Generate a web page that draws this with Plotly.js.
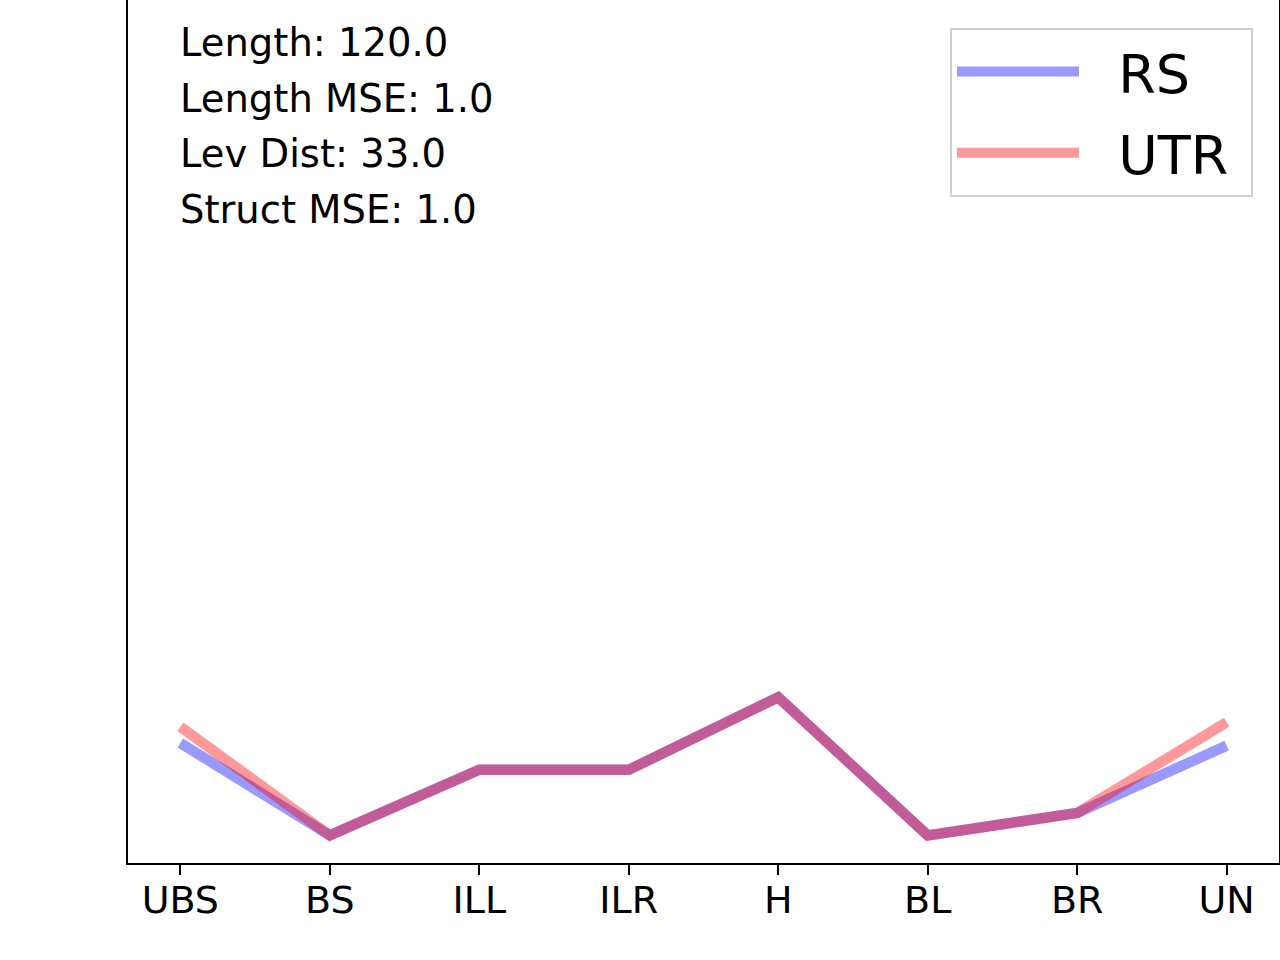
<!DOCTYPE html>
<html>
<head>
<meta charset="utf-8">
<script src="https://cdn.plot.ly/plotly-3.0.1.min.js"></script>
<style>
  html, body { margin: 0; padding: 0; background: #fff; }
  #chart { width: 1280px; height: 960px; }
</style>
</head>
<body>
<div id="chart"></div>
<script>
// categories along the x axis
const categories = ['UBS', 'BS', 'ILL', 'ILR', 'H', 'BL', 'BR', 'UN'];

// series values (axis 0..1)
const rsValues  = [0.139, 0.032, 0.108, 0.108, 0.192, 0.032, 0.058, 0.136];
const utrValues = [0.158, 0.032, 0.108, 0.108, 0.192, 0.032, 0.058, 0.163];

const seriesNames = ['RS', 'UTR'];

// stats text in the top-left corner
const statLines = [
  'Length: 120.0',
  'Length MSE: 1.0',
  'Lev Dist: 33.0',
  'Struct MSE: 1.0',
];

const FONT = 'DejaVu Sans, Liberation Sans, sans-serif';
const NB = '\u00a0';

// legend labels get a little non-breaking padding, like the matplotlib legend
const legendLabel = (s) => NB + NB + s + NB;

const traces = [
  {
    x: categories,
    y: rsValues,
    type: 'scatter',
    mode: 'lines',
    name: legendLabel(seriesNames[0]),
    legendgroup: 'a',
    line: { color: 'rgba(0,0,255,0.4)', width: 10.5 },
  },
  {
    x: categories,
    y: utrValues,
    type: 'scatter',
    mode: 'lines',
    name: legendLabel(seriesNames[1]),
    legendgroup: 'b',
    line: { color: 'rgba(255,0,0,0.4)', width: 10.5 },
  },
];

const statY = [43, 98, 154, 209]; // pixel centres of the text lines
const annotations = statLines.map((t, i) => ({
  text: t,
  xref: 'paper',
  yref: 'paper',
  x: (178 - 128) / 1151,
  y: 1 - statY[i] / 863,
  xanchor: 'left',
  yanchor: 'middle',
  showarrow: false,
  font: { family: FONT, size: 38.5, color: '#000' },
}));

const layout = {
  width: 1280,
  height: 960,
  paper_bgcolor: '#fff',
  plot_bgcolor: '#fff',
  font: { family: FONT, color: '#000' },
  margin: { l: 128, r: 1, t: 0, b: 97 },
  showlegend: true,
  legend: {
    x: 0.9774,
    xanchor: 'right',
    y: 0.9676,
    yanchor: 'top',
    font: { family: FONT, size: 54, color: '#000' },
    bordercolor: '#d0d0d0',
    borderwidth: 2,
    bgcolor: '#fff',
    itemwidth: 122,
    traceorder: 'grouped',
    tracegroupgap: 8,
  },
  xaxis: {
    type: 'category',
    range: [-0.35, 7.35],
    showgrid: false,
    zeroline: false,
    showline: true,
    linecolor: '#000',
    linewidth: 2,
    mirror: true,
    ticks: 'outside',
    ticklen: 10,
    tickwidth: 2,
    tickcolor: '#000',
    ticklabelstandoff: -8,
    tickfont: { family: FONT, size: 38, color: '#000' },
  },
  yaxis: {
    range: [0, 1],
    showgrid: false,
    zeroline: false,
    showline: true,
    linecolor: '#000',
    linewidth: 2,
    mirror: true,
    ticks: '',
    showticklabels: false,
  },
  annotations: annotations,
};

Plotly.newPlot('chart', traces, layout, { displayModeBar: false, responsive: false });
</script>
</body>
</html>
